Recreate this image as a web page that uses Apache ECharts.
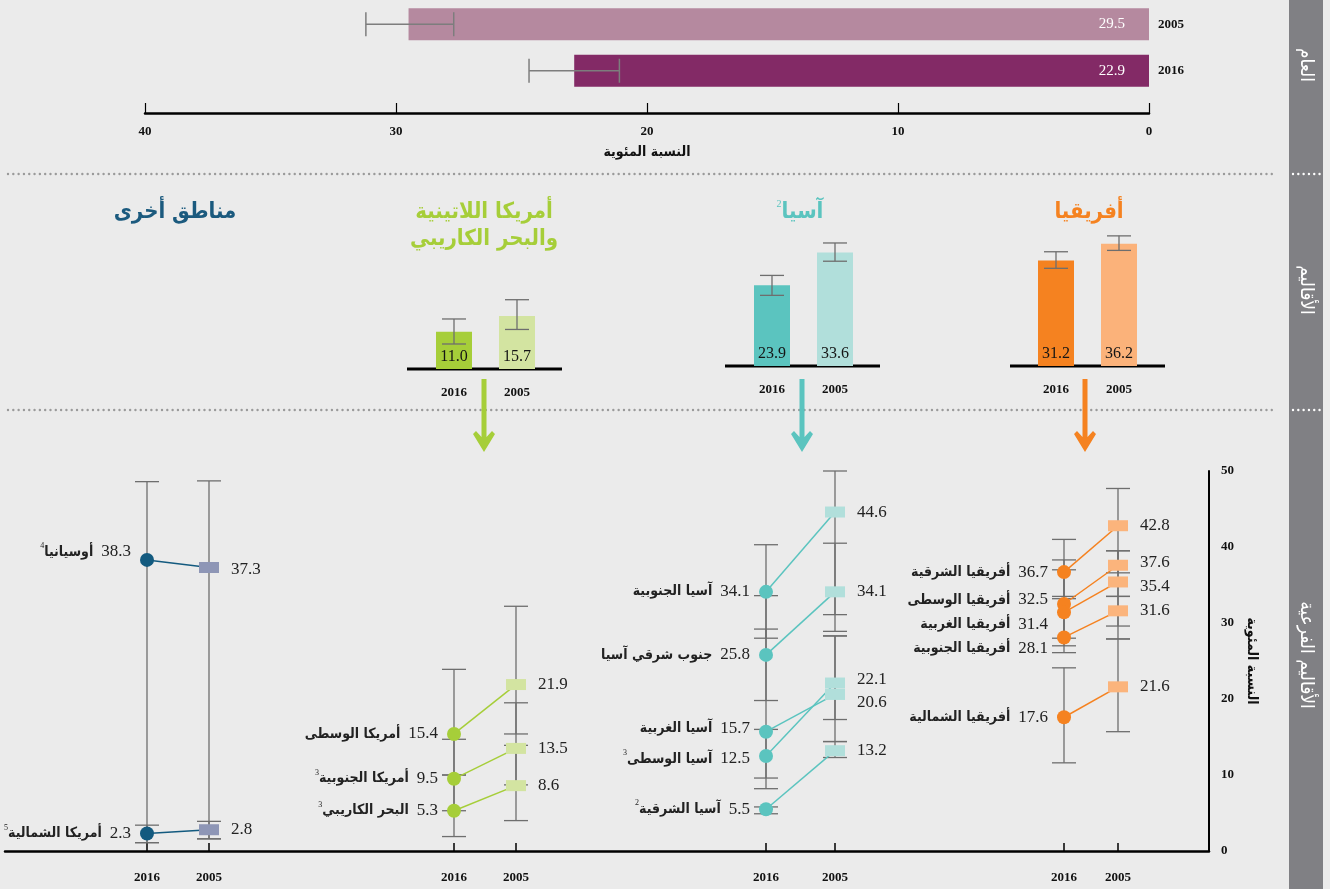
<!DOCTYPE html>
<html lang="en">
<head>
    <meta charset="UTF-8">
    <title>نسبة السكان</title>
    <style>
        html, body { margin: 0; padding: 0; background: #ebebeb; }
        #main { width: 1330px; height: 889px; }
    </style>
</head>
<body>
<div id="main"></div>
<script src="https://cdn.jsdelivr.net/npm/echarts@6/dist/echarts.min.js"></script>
<script>
    // ---- data ----
    var worldYears = ['2005', '2016'];
    var worldValues = [29.5, 22.9];
    var worldLow = [27.7, 21.1];
    var worldHigh = [31.2, 24.7];

    var years = ['2016', '2005'];

    var africaValues = [31.2, 36.2];
    var africaLow = [28.9, 34.2];
    var africaHigh = [33.8, 38.5];
    var asiaValues = [23.9, 33.6];
    var asiaLow = [20.9, 31.0];
    var asiaHigh = [26.8, 36.4];
    var latamValues = [11.0, 15.7];
    var latamLow = [7.4, 11.7];
    var latamHigh = [14.8, 20.5];

    var africaSub = ['أفريقيا الشرقية', 'أفريقيا الوسطى', 'أفريقيا الغربية', 'أفريقيا الجنوبية', 'أفريقيا الشمالية'];
    var africaNotes = ['', '', '', '', ''];
    var africa2016 = [36.7, 32.5, 31.4, 28.1, 17.6];
    var africa2005 = [42.8, 37.6, 35.4, 31.6, 21.6];
    var africaLow2016 = [33.5, 26.1, 28.0, 27.0, 11.6];
    var africaHigh2016 = [41.0, 38.3, 37.0, 33.2, 24.1];
    var africaLow2005 = [36.6, 33.5, 29.6, 27.9, 15.7];
    var africaHigh2005 = [47.7, 39.5, 39.5, 33.5, 27.9];

    var asiaSub = ['آسيا الجنوبية', 'جنوب شرقي آسيا', 'آسيا الغربية', 'آسيا الوسطى', 'آسيا الشرقية'];
    var asiaNotes = ['', '', '', '3', '2'];
    var asia2016 = [34.1, 25.8, 15.7, 12.5, 5.5];
    var asia2005 = [44.6, 34.1, 20.6, 22.1, 13.2];
    var asiaLow2016 = [28.0, 19.8, 9.6, 8.2, 4.9];
    var asiaHigh2016 = [40.3, 33.6, 29.2, 16.0, 5.8];
    var asiaLow2005 = [31.1, 28.9, 17.3, 14.4, 12.3];
    var asiaHigh2005 = [50.0, 40.5, 28.3, 28.3, 14.4];

    var latamSub = ['أمريكا الوسطى', 'أمريكا الجنوبية', 'البحر الكاريبي'];
    var latamNotes = ['', '3', '3'];
    var latam2016 = [15.4, 9.5, 5.3];
    var latam2005 = [21.9, 13.5, 8.6];
    var latamLow2016 = [10.0, 5.3, 1.9];
    var latamHigh2016 = [23.9, 14.7, 10.0];
    var latamLow2005 = [15.4, 8.7, 4.0];
    var latamHigh2005 = [32.2, 19.5, 13.9];

    var otherSub = ['أوسيانيا', 'أمريكا الشمالية'];
    var otherNotes = ['4', '5'];
    var other2016 = [38.3, 2.3];
    var other2005 = [37.3, 2.8];
    var otherLow2016 = [1.1, 1.1];
    var otherHigh2016 = [48.6, 3.4];
    var otherLow2005 = [1.6, 1.6];
    var otherHigh2005 = [48.7, 3.9];

    // ---- styles ----
    var serif = 'Liberation Serif';
    var arab = 'DejaVu Sans Condensed, DejaVu Sans';
    var errColor = '#6e6e6e';

    // small vertical label shifts to keep labels apart [2016, 2005]
    var nudge = {
        'أفريقيا الوسطى': [-4, -3],
        'أفريقيا الغربية': [12, 5],
        'أفريقيا الجنوبية': [11, 0],
        'آسيا الغربية': [-3, 8],
        'آسيا الوسطى': [3, -4],
        'أوسيانيا': [-8, 2]
    };

    function vErr(capW) {
        return function (params, api) {
            var lo = api.coord([api.value(0), api.value(1)]);
            var hi = api.coord([api.value(0), api.value(2)]);
            var h = capW / 2;
            var st = { stroke: errColor, lineWidth: 1.3 };
            return { type: 'group', children: [
                { type: 'line', shape: { x1: lo[0], y1: lo[1], x2: hi[0], y2: hi[1] }, style: st },
                { type: 'line', shape: { x1: lo[0] - h, y1: lo[1], x2: lo[0] + h, y2: lo[1] }, style: st },
                { type: 'line', shape: { x1: hi[0] - h, y1: hi[1], x2: hi[0] + h, y2: hi[1] }, style: st }
            ]};
        };
    }

    function hErr(params, api) {
        var lo = api.coord([api.value(0), api.value(2)]);
        var hi = api.coord([api.value(1), api.value(2)]);
        var h = 12;
        var st = { stroke: '#7d7d7d', lineWidth: 1.5 };
        return { type: 'group', children: [
            { type: 'line', shape: { x1: lo[0], y1: lo[1], x2: hi[0], y2: hi[1] }, style: st },
            { type: 'line', shape: { x1: lo[0], y1: lo[1] - h, x2: lo[0], y2: lo[1] + h }, style: st },
            { type: 'line', shape: { x1: hi[0], y1: hi[1] - h, x2: hi[0], y2: hi[1] + h }, style: st }
        ]};
    }

    var yearLabel = { color: '#111', fontFamily: serif, fontWeight: 'bold', fontSize: 13 };

    var grids = [];
    var xAxes = [];
    var yAxes = [];
    var series = [];

    // world
    grids.push({ left: 145, right: 181, top: 1, height: 93 });
    xAxes.push({
        gridIndex: 0, type: 'value', inverse: true, min: 0, max: 40, interval: 10, offset: 19,
        axisLine: { show: true, onZero: false, lineStyle: { color: '#000', width: 2.5 } },
        axisTick: { show: true, inside: true, length: 10, lineStyle: { color: '#000', width: 1.2 } },
        splitLine: { show: false },
        axisLabel: { margin: 12, color: '#111', fontFamily: serif, fontWeight: 'bold', fontSize: 13 },
        name: 'النسبة المئوية', nameLocation: 'middle', nameGap: 32,
        nameTextStyle: { color: '#111', fontFamily: arab, fontWeight: 'bold', fontSize: 14 }
    });
    yAxes.push({
        gridIndex: 0, type: 'category', data: worldYears, inverse: true, position: 'right',
        axisLine: { show: false }, axisTick: { show: false },
        axisLabel: Object.assign({ margin: 9 }, yearLabel)
    });
    var worldColors = ['#b5899f', '#832a66'];
    series.push({
        type: 'bar', xAxisIndex: 0, yAxisIndex: 0, barWidth: 32,
        data: worldValues.map(function (v, i) { return { value: v, itemStyle: { color: worldColors[i] } }; }),
        label: { show: true, position: 'insideRight', distance: 24, color: '#fff', fontFamily: serif, fontSize: 15,
            formatter: function (p) { return p.value.toFixed(1); } }
    });
    series.push({
        type: 'custom', xAxisIndex: 0, yAxisIndex: 0, z: 5, renderItem: hErr,
        encode: { x: [0, 1], y: 2 },
        data: worldYears.map(function (y, i) { return [worldLow[i], worldHigh[i], i]; })
    });

    // regions (bars)
    var regions = [
        { left: 1024.5, top: 197, values: africaValues, low: africaLow, high: africaHigh, colors: ['#f58220', '#fbb27a'] },
        { left: 740.5, top: 197, values: asiaValues, low: asiaLow, high: asiaHigh, colors: ['#5bc4bf', '#b1dfdb'] },
        { left: 422.5, top: 200, values: latamValues, low: latamLow, high: latamHigh, colors: ['#a6ce39', '#d3e4a1'] }
    ];
    regions.forEach(function (r) {
        var gi = grids.length;
        grids.push({ left: r.left, width: 126, top: r.top, height: 169 });
        xAxes.push({
            gridIndex: gi, type: 'category', data: years,
            axisLine: { show: false }, axisTick: { show: false },
            axisLabel: Object.assign({ margin: 17 }, yearLabel)
        });
        yAxes.push({ gridIndex: gi, type: 'value', min: 0, max: 50, show: false });
        series.push({
            type: 'bar', xAxisIndex: gi, yAxisIndex: gi, barWidth: 36,
            data: r.values.map(function (v, i) { return { value: v, itemStyle: { color: r.colors[i] } }; }),
            label: { show: true, position: 'insideBottom', distance: 4, color: '#151515', fontFamily: serif, fontSize: 16,
                formatter: function (p) { return p.value.toFixed(1); } }
        });
        series.push({
            type: 'custom', xAxisIndex: gi, yAxisIndex: gi, z: 5, renderItem: vErr(24),
            encode: { x: 0, y: [1, 2] },
            data: years.map(function (y, i) { return [i, r.low[i], r.high[i]]; })
        });
    });

    // sub-regions: base grid with the shared axis
    var baseIndex = grids.length;
    grids.push({ left: 5, right: 121, top: 471, height: 380 });
    xAxes.push({
        gridIndex: baseIndex, type: 'value', min: 0, max: 1,
        axisLine: { show: true, onZero: false, lineStyle: { color: '#000', width: 2.5 } },
        axisTick: { show: false }, axisLabel: { show: false }, splitLine: { show: false }
    });
    yAxes.push({
        gridIndex: baseIndex, type: 'value', min: 0, max: 50, interval: 10, position: 'right',
        axisLine: { show: true, onZero: false, lineStyle: { color: '#000', width: 2 } },
        axisTick: { show: false }, splitLine: { show: false },
        axisLabel: { margin: 12, color: '#111', fontFamily: serif, fontWeight: 'bold', fontSize: 13 },
        name: 'النسبة المئوية', nameLocation: 'middle', nameGap: 26, nameRotate: -90,
        nameTextStyle: { color: '#111', fontFamily: arab, fontWeight: 'bold', fontSize: 14 }
    });

    var groups = [
        { left: 116, width: 124, names: otherSub, notes: otherNotes, v16: other2016, v05: other2005,
          lo16: otherLow2016, hi16: otherHigh2016, lo05: otherLow2005, hi05: otherHigh2005, c16: '#135a7f', c05: '#8e96b6' },
        { left: 423, width: 124, names: latamSub, notes: latamNotes, v16: latam2016, v05: latam2005,
          lo16: latamLow2016, hi16: latamHigh2016, lo05: latamLow2005, hi05: latamHigh2005, c16: '#a6ce39', c05: '#d3e4a1' },
        { left: 731.5, width: 138, names: asiaSub, notes: asiaNotes, v16: asia2016, v05: asia2005,
          lo16: asiaLow2016, hi16: asiaHigh2016, lo05: asiaLow2005, hi05: asiaHigh2005, c16: '#5bc4bf', c05: '#b1dfdb' },
        { left: 1037, width: 108, names: africaSub, notes: africaNotes, v16: africa2016, v05: africa2005,
          lo16: africaLow2016, hi16: africaHigh2016, lo05: africaLow2005, hi05: africaHigh2005, c16: '#f58220', c05: '#fbb47c' }
    ];

    var rich = {
        s: { fontFamily: serif, fontSize: 8, color: '#222', verticalAlign: 'top', lineHeight: 20 },
        n: { fontFamily: arab, fontWeight: 'bold', fontSize: 14, color: '#222', lineHeight: 20 },
        v: { fontFamily: serif, fontSize: 17, color: '#222', lineHeight: 20, padding: [0, 0, 0, 8] },
        r: { fontFamily: serif, fontSize: 17, color: '#222', lineHeight: 20 }
    };

    groups.forEach(function (g) {
        var gi = grids.length;
        grids.push({ left: g.left, width: g.width, top: 471, height: 380 });
        xAxes.push({
            gridIndex: gi, type: 'category', data: years,
            axisLine: { show: false },
            axisTick: { show: true, inside: true, alignWithLabel: true, length: 8, lineStyle: { color: '#000', width: 1.5 } },
            axisLabel: Object.assign({ margin: 20 }, yearLabel)
        });
        yAxes.push({ gridIndex: gi, type: 'value', min: 0, max: 50, show: false });
        var err = [];
        g.names.forEach(function (name, i) {
            err.push([0, g.lo16[i], g.hi16[i]]);
            err.push([1, g.lo05[i], g.hi05[i]]);
            var nd = nudge[name] || [0, 0];
            var note = g.notes[i] ? '{s|' + g.notes[i] + '}' : '';
            series.push({
                type: 'line', xAxisIndex: gi, yAxisIndex: gi, z: 4,
                lineStyle: { color: g.c16, width: 1.5 },
                label: { rich: rich },
                data: [
                    { value: g.v16[i], symbol: 'circle', symbolSize: 14, itemStyle: { color: g.c16 },
                      label: { show: true, position: 'left', distance: 9, offset: [0, nd[0]],
                               formatter: note + '{n|' + name + '}{v|' + g.v16[i].toFixed(1) + '}' } },
                    { value: g.v05[i], symbol: 'rect', symbolSize: [20, 11], itemStyle: { color: g.c05 },
                      label: { show: true, position: 'right', distance: 12, offset: [0, nd[1]],
                               formatter: '{r|' + g.v05[i].toFixed(1) + '}' } }
                ]
            });
        });
        series.push({
            type: 'custom', xAxisIndex: gi, yAxisIndex: gi, z: 2, renderItem: vErr(24),
            encode: { x: 0, y: [1, 2] }, data: err
        });
    });

    // ---- decorations ----
    var graphics = [];
    graphics.push({ type: 'rect', shape: { x: 1289, y: 0, width: 34, height: 889 }, style: { fill: '#808084' } });
    [174, 410].forEach(function (y) {
        graphics.push({ type: 'line', shape: { x1: 8, y1: y, x2: 1272, y2: y },
            style: { stroke: '#9a9a9a', lineWidth: 2.4, lineDash: [0.01, 5.3], lineCap: 'round' } });
        graphics.push({ type: 'line', shape: { x1: 1293, y1: y, x2: 1320, y2: y },
            style: { stroke: '#ffffff', lineWidth: 2.4, lineDash: [0.01, 5.3], lineCap: 'round' } });
    });
    [['العام', 65], ['الأقاليم', 290], ['الأقاليم الفرعية', 655]].forEach(function (t) {
        graphics.push({ type: 'text', x: 1306, y: t[1], rotation: -Math.PI / 2,
            style: { text: t[0], fill: '#fff', fontFamily: arab, fontSize: 19, align: 'center', verticalAlign: 'middle' } });
    });
    var titleFont = { fontFamily: arab, fontWeight: 'bold', fontSize: 22 };
    graphics.push({ type: 'text', x: 1089, y: 212, style: Object.assign({ text: 'أفريقيا', fill: '#f58220', align: 'center', verticalAlign: 'middle' }, titleFont) });
    graphics.push({ type: 'text', x: 800, y: 212, style: { text: '{s|2}{t|آسيا}', align: 'center', verticalAlign: 'middle',
        rich: { s: { fontFamily: serif, fontSize: 10, fill: '#5bc4bf', verticalAlign: 'top', lineHeight: 26 },
                t: Object.assign({ fill: '#5bc4bf', lineHeight: 26 }, titleFont) } } });
    graphics.push({ type: 'text', x: 484, y: 226, style: Object.assign({ text: 'أمريكا اللاتينية\nوالبحر الكاريبي', fill: '#a6ce39',
        align: 'center', verticalAlign: 'middle', lineHeight: 27 }, titleFont) });
    graphics.push({ type: 'text', x: 175, y: 212, style: Object.assign({ text: 'مناطق أخرى', fill: '#1b5a7e', align: 'center', verticalAlign: 'middle' }, titleFont) });

    [[1010, 1165, 366], [725, 880, 366], [407, 562, 369]].forEach(function (b) {
        graphics.push({ type: 'line', shape: { x1: b[0], y1: b[2], x2: b[1], y2: b[2] }, style: { stroke: '#000', lineWidth: 3 } });
    });
    [[1085, '#f58220'], [802, '#5bc4bf'], [484, '#a6ce39']].forEach(function (a) {
        var x = a[0];
        graphics.push({ type: 'polygon', shape: { points: [
            [x - 2.5, 379], [x + 2.5, 379], [x + 2.5, 437], [x + 8, 431], [x + 11, 434], [x, 452],
            [x - 11, 434], [x - 8, 431], [x - 2.5, 437]
        ] }, style: { fill: a[1] } });
    });

    var myChart = echarts.init(document.getElementById('main'));
    myChart.setOption({
        backgroundColor: '#ebebeb',
        animation: false,
        grid: grids,
        xAxis: xAxes,
        yAxis: yAxes,
        series: series,
        graphic: graphics
    });
</script>
</body>
</html>
